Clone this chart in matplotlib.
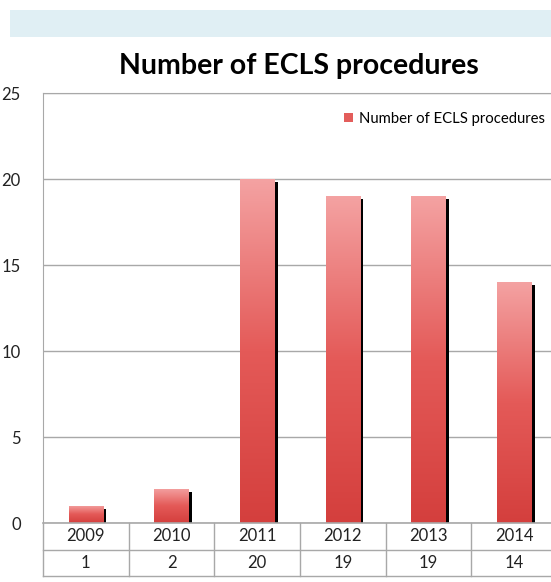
import numpy as np
import matplotlib
matplotlib.use("Agg")
import matplotlib.pyplot as plt
from matplotlib.patches import Rectangle, Patch
from matplotlib.colors import LinearSegmentedColormap
import matplotlib.transforms as mtransforms

# --- data ---
years = ["2009", "2010", "2011", "2012", "2013", "2014"]
counts = [1, 2, 20, 19, 19, 14]
series_name = "Number of ECLS procedures"
y_ticks = [0, 5, 10, 15, 20, 25]

plt.rcParams['font.family'] = ['Lato', 'DejaVu Sans']

W, H = 551, 582
fig = plt.figure(figsize=(W / 100, H / 100), dpi=100)

# light blue band at the top
fig.patches.append(Rectangle((10 / W, (H - 37) / H), (W - 10) / W, 27 / H,
                             transform=fig.transFigure, facecolor='#e0eff4',
                             edgecolor='none'))

# plot area (runs a little past the right edge, as in the original crop)
x0, x1, ytop, ybot = 43, 557, 93, 523
ax = fig.add_axes([x0 / W, (H - ybot) / H, (x1 - x0) / W, (ybot - ytop) / H])

x = np.arange(len(years))
ax.set_xlim(-0.5, len(years) - 0.5)
ax.set_ylim(0, 25)

grid_col = '#a8a8a8'
txt_col = '#222222'
fs = 12
for sp in ['right', 'bottom']:
    ax.spines[sp].set_visible(False)
ax.spines['left'].set_color(grid_col)
ax.spines['top'].set_color(grid_col)
ax.set_yticks(y_ticks)
ax.yaxis.grid(True, color=grid_col, linewidth=1)
ax.set_axisbelow(True)
ax.tick_params(axis='y', length=0, pad=16, labelsize=fs, labelcolor=txt_col)
ax.set_xticks([])

# shadows (black, offset right/down)
shadow_tr = mtransforms.offset_copy(ax.transData, fig=fig, x=3.5, y=-3, units='dots')
ax.bar(x, counts, width=0.40, color='black', transform=shadow_tr, zorder=2)

# gradient bars
cmap = LinearSegmentedColormap.from_list('bar', ['#d43f3d', '#e45a58', '#f4a2a2'])
bars = ax.bar(x, counts, width=0.40, color='none', edgecolor='none', zorder=3)
grad = np.linspace(0, 1, 256).reshape(-1, 1)
for b in bars:
    bx, by = b.get_x(), b.get_y()
    bw, bh = b.get_width(), b.get_height()
    im = ax.imshow(grad, cmap=cmap, aspect='auto', origin='lower',
                   extent=[bx, bx + bw, by, by + bh], zorder=3)
    im.set_clip_path(b)
ax.set_xlim(-0.5, len(years) - 0.5)
ax.set_ylim(0, 25)

# baseline
ax.axhline(0, color=grid_col, linewidth=1.2, zorder=4, clip_on=False)

# data table below the axis
row_h = 26.5 / (ybot - ytop)
line_kw = dict(color=grid_col, linewidth=1, clip_on=False,
               transform=ax.transAxes)
for k in (1, 2):
    ax.plot([0, 1], [-k * row_h, -k * row_h], **line_kw)
bt = mtransforms.blended_transform_factory(ax.transData, ax.transAxes)
for i in range(len(years) + 1):
    ax.plot([i - 0.5, i - 0.5], [0, -2 * row_h], color=grid_col, linewidth=1,
            clip_on=False, transform=bt)
for i, (yr, c) in enumerate(zip(years, counts)):
    ax.text(i, -0.5 * row_h, yr, transform=bt, ha='center', va='center',
            fontsize=fs, color=txt_col)
    ax.text(i, -1.5 * row_h, str(c), transform=bt, ha='center', va='center',
            fontsize=fs, color=txt_col)

# title
fig.text(299 / W, (H - 66) / H, series_name, ha='center', va='center',
         fontsize=20.5, fontweight='bold', color='black')

# legend
ax.legend(handles=[Patch(facecolor='#e35d5b', edgecolor='none', label=series_name)],
          loc='center left', bbox_to_anchor=(337 / W, (H - 119) / H),
          bbox_transform=fig.transFigure, frameon=False, handlelength=0.6,
          handleheight=0.6, handletextpad=0.4, borderpad=0, fontsize=10.7)

fig.savefig('out.png', dpi=100)
